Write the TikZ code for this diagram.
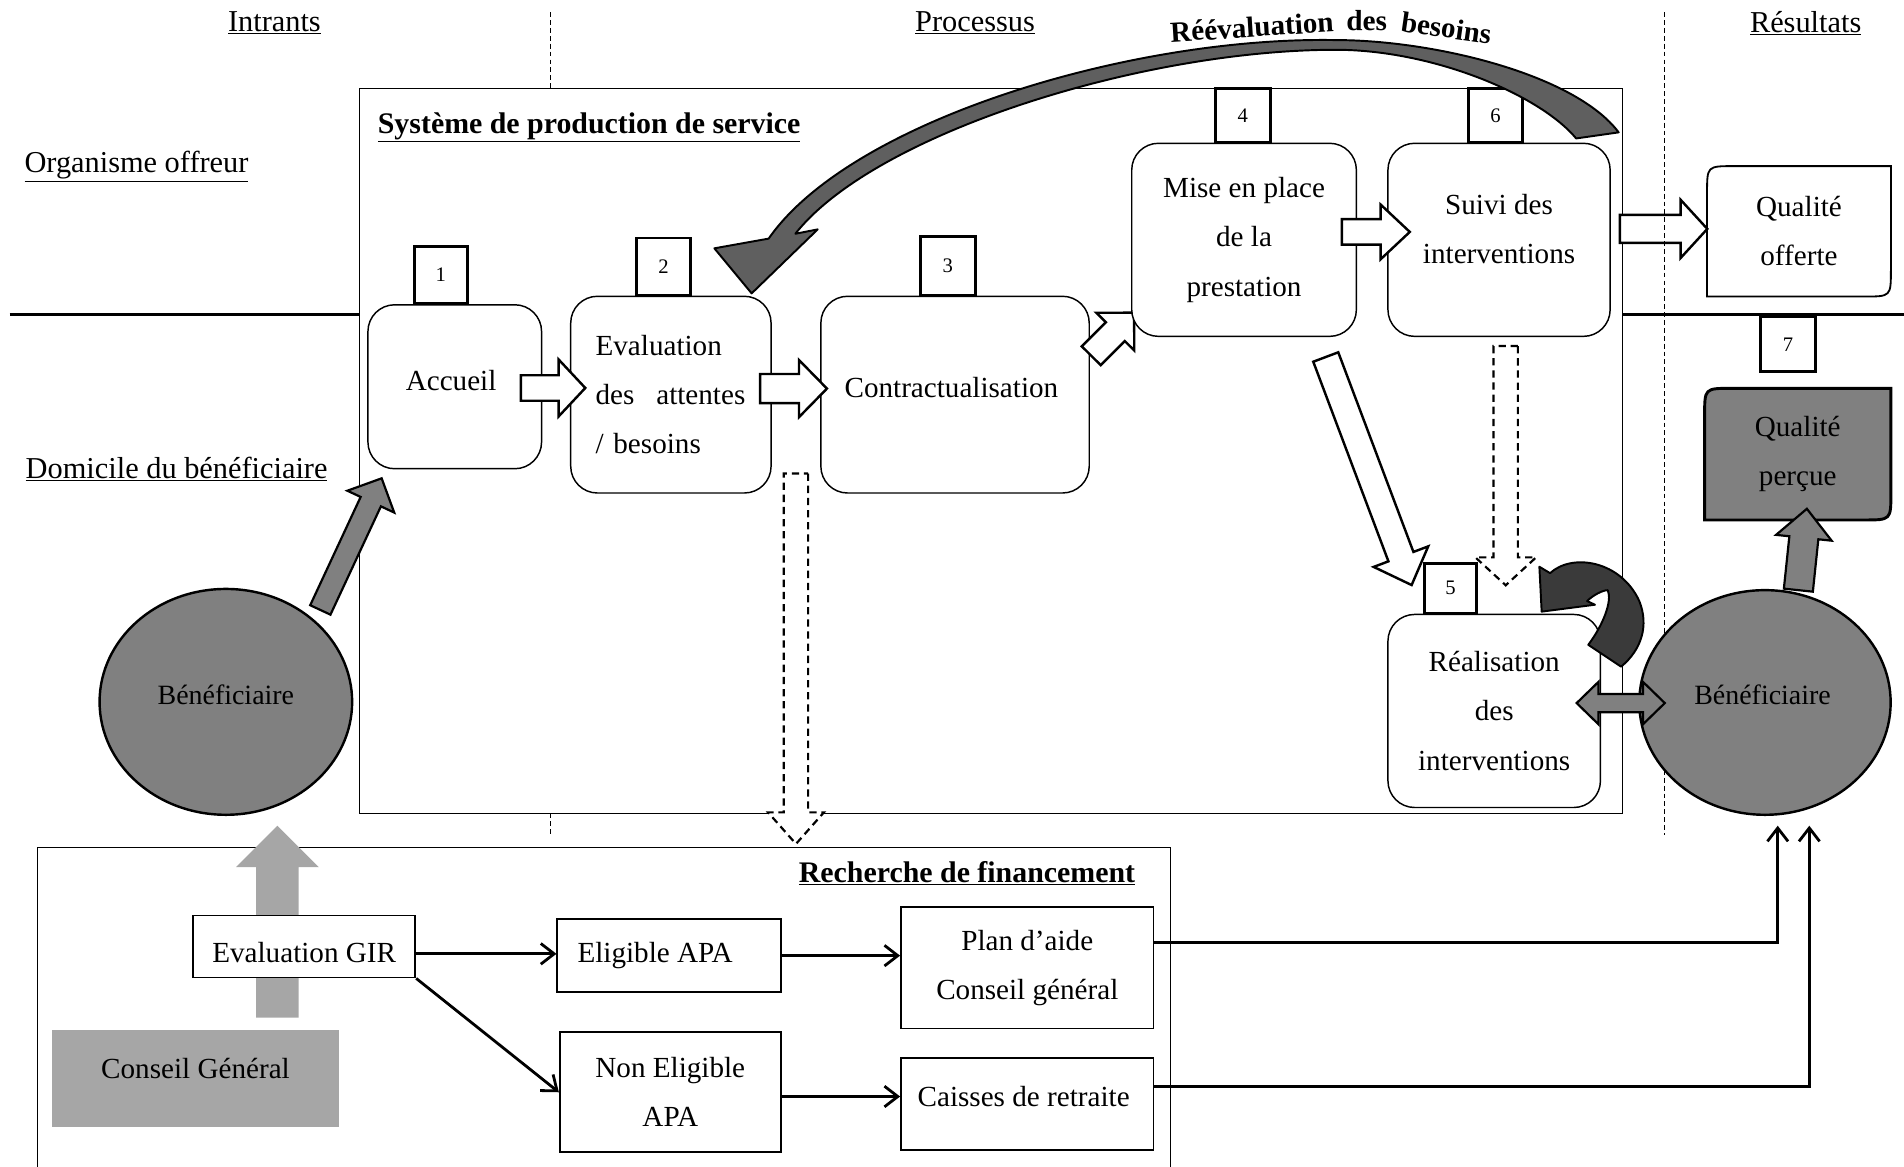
\documentclass[tikz,border=0pt]{standalone}
\usepackage{fontspec}
\setmainfont{Liberation Serif}
\usetikzlibrary{calc,arrows.meta,shapes.geometric}
\pgfdeclarelayer{back}
\pgfsetlayers{back,main}
\definecolor{midgray}{HTML}{808080}
\definecolor{lightgraytwo}{HTML}{A6A6A6}
\definecolor{curvegray}{HTML}{5F5F5F}
\definecolor{darkgraytwo}{HTML}{3A3A3A}

% #1 style, #2 tail coordinate, #3 tip coordinate, #4 shaft half width, #5 head half width, #6 head length
\newcommand\blockarrow[6]{%
  \coordinate (ba-t) at (#2);
  \coordinate (ba-p) at (#3);
  \coordinate (ba-h) at ($(ba-p)!#6!(ba-t)$);
  \path[#1] ($(ba-t)!#4!90:(ba-p)$) -- ($(ba-h)!#4!90:(ba-p)$) -- ($(ba-h)!#5!90:(ba-p)$) -- (ba-p)
     -- ($(ba-h)!#5!-90:(ba-p)$) -- ($(ba-h)!#4!-90:(ba-p)$) -- ($(ba-t)!#4!-90:(ba-p)$) -- cycle;
}
\newcommand\dblarrow[6]{%
  \coordinate (da-a) at (#2);
  \coordinate (da-b) at (#3);
  \coordinate (da-h1) at ($(da-a)!#6!(da-b)$);
  \coordinate (da-h2) at ($(da-b)!#6!(da-a)$);
  \path[#1] (da-a) -- ($(da-h1)!#5!90:(da-b)$) -- ($(da-h1)!#4!90:(da-b)$) -- ($(da-h2)!#4!90:(da-b)$)
     -- ($(da-h2)!#5!90:(da-b)$) -- (da-b) -- ($(da-h2)!#5!-90:(da-b)$) -- ($(da-h2)!#4!-90:(da-b)$)
     -- ($(da-h1)!#4!-90:(da-b)$) -- ($(da-h1)!#5!-90:(da-b)$) -- cycle;
}

\begin{document}
\begin{tikzpicture}[x=1pt,y=-1pt,
  txt/.style={font=\fontsize{24}{40.5}\selectfont, inner sep=0pt, align=center},
  stepbox/.style={txt, draw, line width=1.2pt, rounded corners=22pt, fill=white},
  numbox/.style={draw, line width=2.4pt, fill=white, inner sep=0pt, font=\fontsize{17}{17}\selectfont},
  finbox/.style={txt, draw, line width=1.5pt, fill=white},
  benef/.style={ellipse, draw, line width=2pt, fill=midgray, inner sep=0pt},
  benlab/.style={font=\fontsize{23}{23}\selectfont, inner sep=0pt, yshift=6pt},
  hdr/.style={font=\fontsize{25}{28}\selectfont, inner sep=0pt},
  hdrb/.style={font=\fontsize{24.6}{28}\selectfont\bfseries, inner sep=0pt},
  curvelab/.style={font=\fontsize{24}{24}\selectfont\bfseries, inner sep=0pt, anchor=base},
  sepline/.style={line width=0.9pt, dash pattern=on 4pt off 2.5pt},
  whitearrow/.style={draw, line width=2pt, fill=white},
  dasharrow/.style={draw, line width=1.8pt, fill=white, dash pattern=on 6pt off 4pt},
  grayarrow/.style={draw, line width=1.8pt, fill=midgray},
  lightarrow/.style={fill=lightgraytwo},
  conn/.style={line width=2.3pt, -{Straight Barb[length=11pt,width=17pt]}},
]
\useasboundingbox (0,0) rectangle (1568,961);

% ---- separators ----
\draw[sepline] (453,10) -- (453,73);
\draw[sepline] (453,670) -- (453,689);
\draw[line width=2.2pt] (8,259) -- (296,259);
\draw[line width=2.2pt] (1336,259) -- (1568,259);

% ---- headers ----
\node[hdr] (hin) at (226,19) {\underline{Intrants}};
\node[hdr] (hproc) at (803,19) {\underline{Processus}};
\node[hdr] (hres) at (1487,19) {\underline{Résultats}};
\node[hdr, anchor=west] (horg) at (20,137) {\underline{Organisme offreur}};
\node[hdr, anchor=west] (hdom) at (21,386) {\underline{Domicile du bénéficiaire}};

% ---- main frames ----
\node[draw, line width=1.2pt, minimum width=1040pt, minimum height=597pt, inner sep=0pt] (sys) at (816,371.5) {};
\node[hdrb, anchor=west] (systitle) at (311,105) {\underline{Système de production de service}};
\node[draw, line width=1.2pt, minimum width=933pt, minimum height=280pt, inner sep=0pt] (rech) at (497.5,838) {};
\node[hdrb, anchor=east] (rechtitle) at (935,719) {\underline{Recherche de financement}};

% ---- light grey arrow behind Evaluation GIR ----
\coordinate (lgt) at (228.5,838);
\coordinate (lgp) at (228.5,680);
\blockarrow{lightarrow}{lgt}{lgp}{17.5pt}{34pt}{34pt}

% ---- financing boxes ----
\node[fill=lightgraytwo, minimum width=236pt, minimum height=80pt, inner sep=0pt,
      label={[txt,yshift=8pt]center:Conseil Général}] (cg) at (161,888) {};
\node[finbox, minimum width=183pt, minimum height=51pt,
      label={[txt,yshift=-5pt]center:Evaluation GIR}] (gir) at (250.5,779.5) {};
\node[finbox, minimum width=184pt, minimum height=60pt,
      label={[txt,xshift=-11.5pt]center:Eligible APA}] (elig) at (551,787) {};
\node[finbox, minimum width=182pt, minimum height=99pt] (nelig) at (552,899.5) {Non Eligible\\APA};
\node[finbox, minimum width=208pt, minimum height=100pt] (plan) at (846,797) {Plan d’aide\\Conseil général};
\node[finbox, minimum width=208pt, minimum height=76pt,
      label={[txt,yshift=6pt,xshift=-3pt]center:Caisses de retraite}] (caisses) at (846,909) {};

% ---- process steps ----
\node[stepbox, minimum width=143pt, minimum height=135pt,
      label={[txt,yshift=5.5pt,xshift=-3pt]center:Accueil}] (acc) at (374.5,318.5) {};
\node[stepbox, minimum width=165pt, minimum height=162pt, text width=124pt, align=left] (eval) at (552.5,325)
      {Evaluation\\des\hspace{18pt}attentes\\/ besoins};
\node[stepbox, minimum width=221pt, minimum height=162pt,
      label={[txt,yshift=6pt,xshift=-3pt]center:Contractualisation}] (contr) at (786.5,325) {};
% arrow 3 -> 4 goes under the box of step 4
\coordinate (a3t) at (898.7,293);   \coordinate (a3p) at (934,257.5);
\blockarrow{whitearrow}{a3t}{a3p}{11pt}{22pt}{22pt}
\node[stepbox, minimum width=185pt, minimum height=159pt] (mise) at (1024.5,197.5) {Mise en place\\de la\\prestation};
\node[stepbox, minimum width=183pt, minimum height=159pt,
      label={[txt,yshift=9pt]center:{Suivi des\\interventions}}] (suivi) at (1234.5,197.5) {};
\node[stepbox, minimum width=175pt, minimum height=159pt] (real) at (1230.5,585.5) {Réalisation\\des\\interventions};

% ---- step numbers ----
\node[numbox, minimum width=44pt, minimum height=47pt] (n1) at (363,226.5) {1};
\node[numbox, minimum width=45pt, minimum height=47pt] (n2) at (546.5,219.5) {2};
\node[numbox, minimum width=45pt, minimum height=48pt] (n3) at (780.5,219) {3};
\node[numbox, minimum width=45pt, minimum height=44pt] (n4) at (1023.5,95) {4};
\node[numbox, minimum width=45pt, minimum height=44pt] (n6) at (1231.5,95) {6};
\node[numbox, minimum width=43pt, minimum height=41pt] (n5) at (1194.5,484.5) {5};
\node[numbox, minimum width=45pt, minimum height=45pt] (n7) at (1472.5,283.5) {7};

% ---- results ----
\node[txt, minimum width=151pt, minimum height=107pt] (qo) at (1481.5,190.5) {Qualité\\offerte};
\draw[line width=1.5pt] (qo.south west) -- ([yshift=-22pt]qo.north west) .. controls (qo.north west) .. ([xshift=22pt]qo.north west)
   -- (qo.north east) -- ([yshift=22pt]qo.south east) .. controls (qo.south east) .. ([xshift=-22pt]qo.south east) -- cycle;
\node[txt, minimum width=153pt, minimum height=108pt] (qp) at (1480.5,374) {Qualité\\perçue};
\begin{pgfonlayer}{back}
\draw[line width=2.4pt, fill=midgray] (qp.south west) -- ([yshift=-22pt]qp.north west) .. controls (qp.north west) .. ([xshift=22pt]qp.north west)
   -- (qp.north east) -- ([yshift=22pt]qp.south east) .. controls (qp.south east) .. ([xshift=-22pt]qp.south east) -- cycle;
\end{pgfonlayer}

% ---- block arrows between steps ----
\coordinate (a1t) at (429,319.5);   \coordinate (a1p) at (482,319.5);
\coordinate (a2t) at (626,320);     \coordinate (a2p) at (681,320);
\coordinate (a4t) at (1105,191);    \coordinate (a4p) at (1161,191);
\coordinate (a5t) at (1334,188.5);  \coordinate (a5p) at (1406,188.5);
\coordinate (a6t) at (1091.8,294);  \coordinate (a6p) at (1162.5,481.8);
\blockarrow{whitearrow}{a1t}{a1p}{10.5pt}{23.5pt}{22pt}
\blockarrow{whitearrow}{a2t}{a2p}{12pt}{23.5pt}{23pt}
\blockarrow{whitearrow}{a6t}{a6p}{11pt}{24pt}{25pt}
\blockarrow{whitearrow}{a4t}{a4p}{10.5pt}{22.5pt}{24pt}
\blockarrow{whitearrow}{a5t}{a5p}{11.5pt}{24pt}{22pt}

\coordinate (d1t) at (655.5,390);  \coordinate (d1p) at (655.5,695);
\coordinate (d2t) at (1240,285);   \coordinate (d2p) at (1240,482);
\blockarrow{dasharrow}{d1t}{d1p}{10pt}{23pt}{26pt}
\blockarrow{dasharrow}{d2t}{d2p}{10pt}{25pt}{23pt}

\draw[sepline] (1371,10) -- (1371,688);

% ---- beneficiaries ----
\node[benef, minimum width=208pt, minimum height=186pt,
      label={[benlab]center:Bénéficiaire}] (benL) at (186,578) {};
\node[benef, minimum width=207pt, minimum height=185pt,
      label={[benlab,xshift=-2pt]center:Bénéficiaire}] (benR) at (1453.5,578.5) {};

\coordinate (g1t) at (263.8,502.3);  \coordinate (g1p) at (314.3,393.9);
\coordinate (g2t) at (1481,486);     \coordinate (g2p) at (1488,419);
\coordinate (gda) at (1298.4,579);   \coordinate (gdb) at (1371,579);
\blockarrow{grayarrow}{g1t}{g1p}{9.2pt}{21.3pt}{21.2pt}
\blockarrow{grayarrow}{g2t}{g2p}{12pt}{23pt}{24pt}
\dblarrow{grayarrow}{gda}{gdb}{7.5pt}{17.5pt}{18pt}

% ---- curved arrow near step 5 ----
\draw[line width=1.6pt, fill=darkgraytwo, line join=round]
  (1276.5,472) .. controls (1295,455) and (1335,462) .. (1350,495)
  .. controls (1358,515) and (1352,535) .. (1335,549) -- (1308,531)
  .. controls (1320,515) and (1328,495) .. (1324,486)
  .. controls (1320,486) and (1312,490) .. (1307,495)
  -- (1313.5,498) -- (1269.6,503.7) -- (1267.7,466.7) -- cycle;

% ---- big curved arrow "Réévaluation des besoins" ----
\draw[line width=1.6pt, fill=curvegray, line join=round]
  (1298,114) .. controls (1268,78) and (1180,41) .. (1100,41)
  .. controls (940,41) and (720,110) .. (655,192.5)
  -- (673.4,188.9) -- (619,241.6) -- (588.3,204.5) -- (633,196.5)
  .. controls (700,100) and (930,30) .. (1100,33)
  .. controls (1180,33) and (1297,61) .. (1333,109) -- cycle;
\node[curvelab, rotate=3.6] (rw1) at (1031.5,30.5) {Réévaluation};
\node[curvelab, rotate=-0.5] (rw2) at (1125.5,25) {des};
\node[curvelab, rotate=-8.2] (rw3) at (1190,31) {besoins};

% ---- financing connectors ----
\path ($(gir.east)+(0,6)$) coordinate (k1);
\draw[conn] (k1) -- (k1 -| elig.west);
\draw[conn] (gir.south east) -- (nelig.west);
\draw[conn] (elig.east) -- (elig.east -| plan.west);
\path ($(nelig.east)+(0,3.5)$) coordinate (k2);
\draw[conn] (k2) -- (k2 -| caisses.west);
\coordinate (t1) at (1464,680);
\coordinate (t2) at (1490,680);
\path ($(plan.east)+(0,-21)$) coordinate (k3);
\draw[conn] (k3) -| (t1);
\path ($(caisses.east)+(0,-14)$) coordinate (k4);
\draw[conn] (k4) -| (t2);
\end{tikzpicture}
\end{document}
